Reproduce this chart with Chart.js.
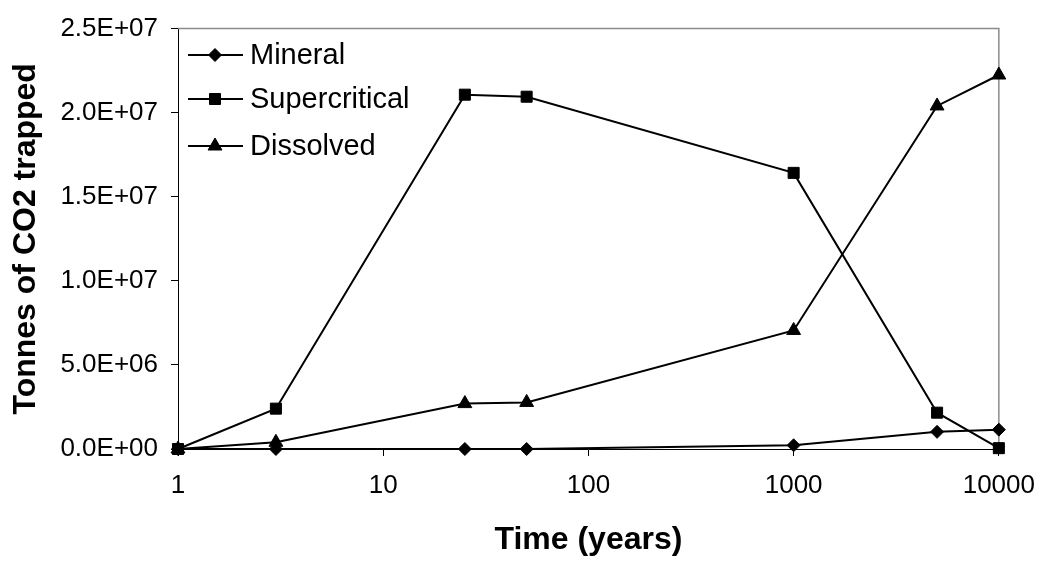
<!DOCTYPE html>
<html>
<head>
<meta charset="utf-8">
<script src="https://cdn.jsdelivr.net/npm/chart.js@4/dist/chart.umd.min.js"></script>
<style>
  html, body { margin: 0; padding: 0; background: #fff; }
  #wrap { width: 1049px; height: 562px; }
</style>
</head>
<body>
<div id="wrap"><canvas id="co2Chart" width="1049" height="562"></canvas></div>
<script>
const years = [1, 3, 25, 50, 1000, 5000, 10000];
const mineral = [0, 0, 0, 0, 2.2e5, 1.02e6, 1.15e6];
const supercritical = [0, 2.4e6, 2.107e7, 2.095e7, 1.642e7, 2.16e6, 5e4];
const dissolved = [0, 4.0e5, 2.70e6, 2.77e6, 7.05e6, 2.04e7, 2.224e7];
const xTicks = [1, 10, 100, 1000, 10000];
const seriesNames = ['Mineral', 'Supercritical', 'Dissolved'];
const FONT = "'Liberation Sans', Arial, sans-serif";

function sci(v) {
  const [m, e] = v.toExponential(1).split('e');
  const sign = e[0] === '-' ? '-' : '+';
  return m + 'E' + sign + String(Math.abs(+e)).padStart(2, '0');
}

function pts(vals) {
  return years.map((x, i) => ({ x: x, y: vals[i] }));
}

const markerStyle = [
  { pointStyle: 'rectRot', radius: 6.5 },
  { pointStyle: 'rect', radius: 7.8 },
  { pointStyle: 'triangle', radius: 8 }
];

function ds(label, vals, i) {
  return {
    label: label,
    data: pts(vals),
    borderColor: '#000',
    backgroundColor: '#000',
    borderWidth: 2,
    pointStyle: markerStyle[i].pointStyle,
    pointRadius: markerStyle[i].radius,
    pointBorderWidth: 1,
    pointBackgroundColor: '#000',
    pointBorderColor: '#000',
    tension: 0,
    clip: false
  };
}

// grey frame on top and right of the plot area
const framePlugin = {
  id: 'frame',
  beforeDatasetsDraw(chart) {
    const { ctx, chartArea: a } = chart;
    ctx.save();
    ctx.strokeStyle = '#8c8c8c';
    ctx.lineWidth = 1.5;
    ctx.beginPath();
    ctx.moveTo(a.left, a.top);
    ctx.lineTo(a.right, a.top);
    ctx.lineTo(a.right, a.bottom);
    ctx.stroke();
    ctx.restore();
  }
};

// legend inside the plot, top left
const legendPlugin = {
  id: 'insideLegend',
  afterDraw(chart) {
    const ctx = chart.ctx;
    const rows = [55, 99, 146];
    ctx.save();
    chart.data.datasets.forEach((d, i) => {
      const y = rows[i];
      ctx.strokeStyle = '#000';
      ctx.lineWidth = 2;
      ctx.beginPath();
      ctx.moveTo(188, y);
      ctx.lineTo(243, y);
      ctx.stroke();
      ctx.fillStyle = '#000';
      ctx.lineWidth = 1;
      Chart.helpers.drawPoint(ctx, { pointStyle: d.pointStyle, radius: d.pointRadius, rotation: 0, borderWidth: 1 }, 215, y);
      ctx.font = '29px ' + FONT;
      ctx.textBaseline = 'middle';
      ctx.textAlign = 'left';
      ctx.fillText(d.label, 250, y + 1);
    });
    ctx.restore();
  }
};

const chart = new Chart(document.getElementById('co2Chart'), {
  type: 'line',
  data: {
    datasets: [
      ds(seriesNames[0], mineral, 0),
      ds(seriesNames[1], supercritical, 1),
      ds(seriesNames[2], dissolved, 2)
    ]
  },
  options: {
    responsive: false,
    animation: false,
    layout: { padding: { top: 20, right: 44, left: 0, bottom: 0 } },
    plugins: { legend: { display: false }, tooltip: { enabled: false } },
    scales: {
      x: {
        type: 'logarithmic',
        min: 1,
        max: 10000,
        afterBuildTicks: s => { s.ticks = xTicks.map(v => ({ value: v })); },
        afterFit: s => { s.height = 113; },
        ticks: {
          color: '#000',
          font: { family: FONT, size: 26 },
          padding: 14,
          maxRotation: 0,
          autoSkip: false,
          callback: v => String(v)
        },
        grid: { display: true, drawOnChartArea: false, tickLength: 7, color: '#000', lineWidth: 1 },
        border: { display: true, color: '#000', width: 1 },
        title: {
          display: true,
          text: 'Time (years)',
          color: '#000',
          font: { family: FONT, size: 32, weight: 'bold' },
          padding: { top: 0, bottom: 3 }
        }
      },
      y: {
        type: 'linear',
        min: 0,
        max: 2.5e7,
        afterFit: s => { s.width = 178; },
        ticks: {
          stepSize: 5e6,
          color: '#000',
          font: { family: FONT, size: 26 },
          padding: 13,
          callback: v => sci(v)
        },
        grid: { display: true, drawOnChartArea: false, tickLength: 7, color: '#000', lineWidth: 1 },
        border: { display: true, color: '#000', width: 1 },
        title: {
          display: true,
          text: 'Tonnes of CO2 trapped',
          color: '#000',
          font: { family: FONT, size: 32, weight: 'bold' },
          padding: { top: 7, bottom: 0 }
        }
      }
    }
  },
  plugins: [framePlugin, legendPlugin]
});
</script>
</body>
</html>
